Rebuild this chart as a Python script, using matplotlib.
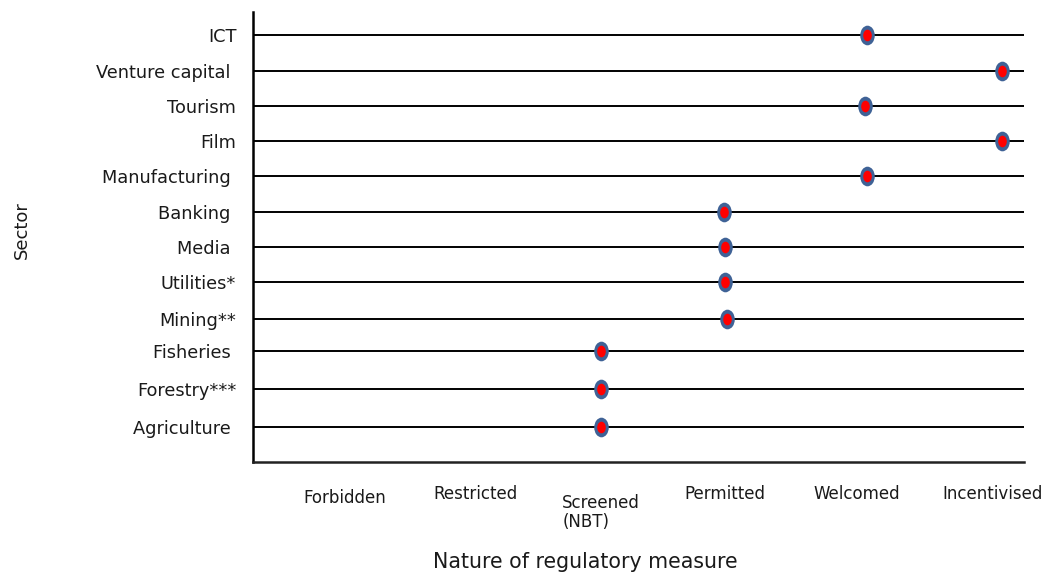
import matplotlib
matplotlib.use("Agg")
import matplotlib.pyplot as plt
from matplotlib.path import Path
from matplotlib.transforms import Affine2D

sectors = ["Agriculture ", "Forestry***", "Fisheries ", "Mining**", "Utilities*",
           "Media ", "Banking ", "Manufacturing ", "Film", "Tourism",
           "Venture capital ", "ICT"]
# position on the regulatory scale (1=Forbidden ... 6=Incentivised)
measure = [3.0, 3.0, 3.0, 4.01, 4.0, 4.0, 3.99, 5.14, 6.22, 5.12, 6.22, 5.14]
row_pos = [1, 2.06, 3.13, 4.03, 5.07, 6.05, 7.03, 8.02, 9.0, 9.98, 10.96, 11.97]
categories = ["Forbidden", "Restricted", "Screened\n(NBT)", "Permitted", "Welcomed", "Incentivised"]

# layout for the category captions (x in data units, top in pixels)
cat_x = [0.94, 1.99, 2.69, 4.0, 5.06, 6.15]
cat_top_px = [489, 485, 494, 485, 485, 485]

plt.rcParams['font.family'] = ['DejaVu Sans']
W, H = 1048, 575
fig = plt.figure(figsize=(W/100, H/100), dpi=100)
ax_bottom_px, ax_h_px = 113, 450
ax = fig.add_axes([253/W, ax_bottom_px/H, (1024-253)/W, ax_h_px/H])
xmin, xmax = 0.205, 6.40
ax.set_xlim(xmin, xmax)
ax.set_ylim(0.02, 12.62)

ax.hlines(row_pos, xmin, xmax, color='black', lw=1.4, zorder=1)

ell = Path.unit_circle().transformed(Affine2D().scale(0.74, 1.0))
ax.scatter(measure, row_pos, marker=ell, s=200, color='#3F6296', zorder=3, linewidths=0)
ax.scatter(measure, row_pos, marker=ell, s=70, color='#FF0000', zorder=4, linewidths=0)

for s in ['top', 'right']:
    ax.spines[s].set_visible(False)
ax.spines['left'].set_linewidth(1.8)
ax.spines['bottom'].set_linewidth(1.8)
ax.spines['bottom'].set_color('#222222')

ax.set_yticks(row_pos)
ax.set_yticklabels(sectors, fontsize=12.8, color='#1a1a1a')
ax.tick_params(axis='y', length=0, pad=12)
ax.set_xticks([])

tr = ax.get_xaxis_transform()
for lab, xp, top in zip(categories, cat_x, cat_top_px):
    yy = -(top - (H - ax_bottom_px)) / ax_h_px
    ha = 'left' if "\n" in lab else 'center'
    ax.text(xp, yy, lab, ha=ha, va='top', fontsize=12, color='#1a1a1a',
            transform=tr, linespacing=1.05)

fig.text(585/W, 1 - 568/H, "Nature of regulatory measure", ha='center', va='baseline',
         fontsize=14.8, color='#1a1a1a')
fig.text(22/W, 1 - 230/H, "Sector", ha='center', va='center', rotation=90,
         fontsize=13, color='#1a1a1a')

fig.savefig("out.png", dpi=100)
